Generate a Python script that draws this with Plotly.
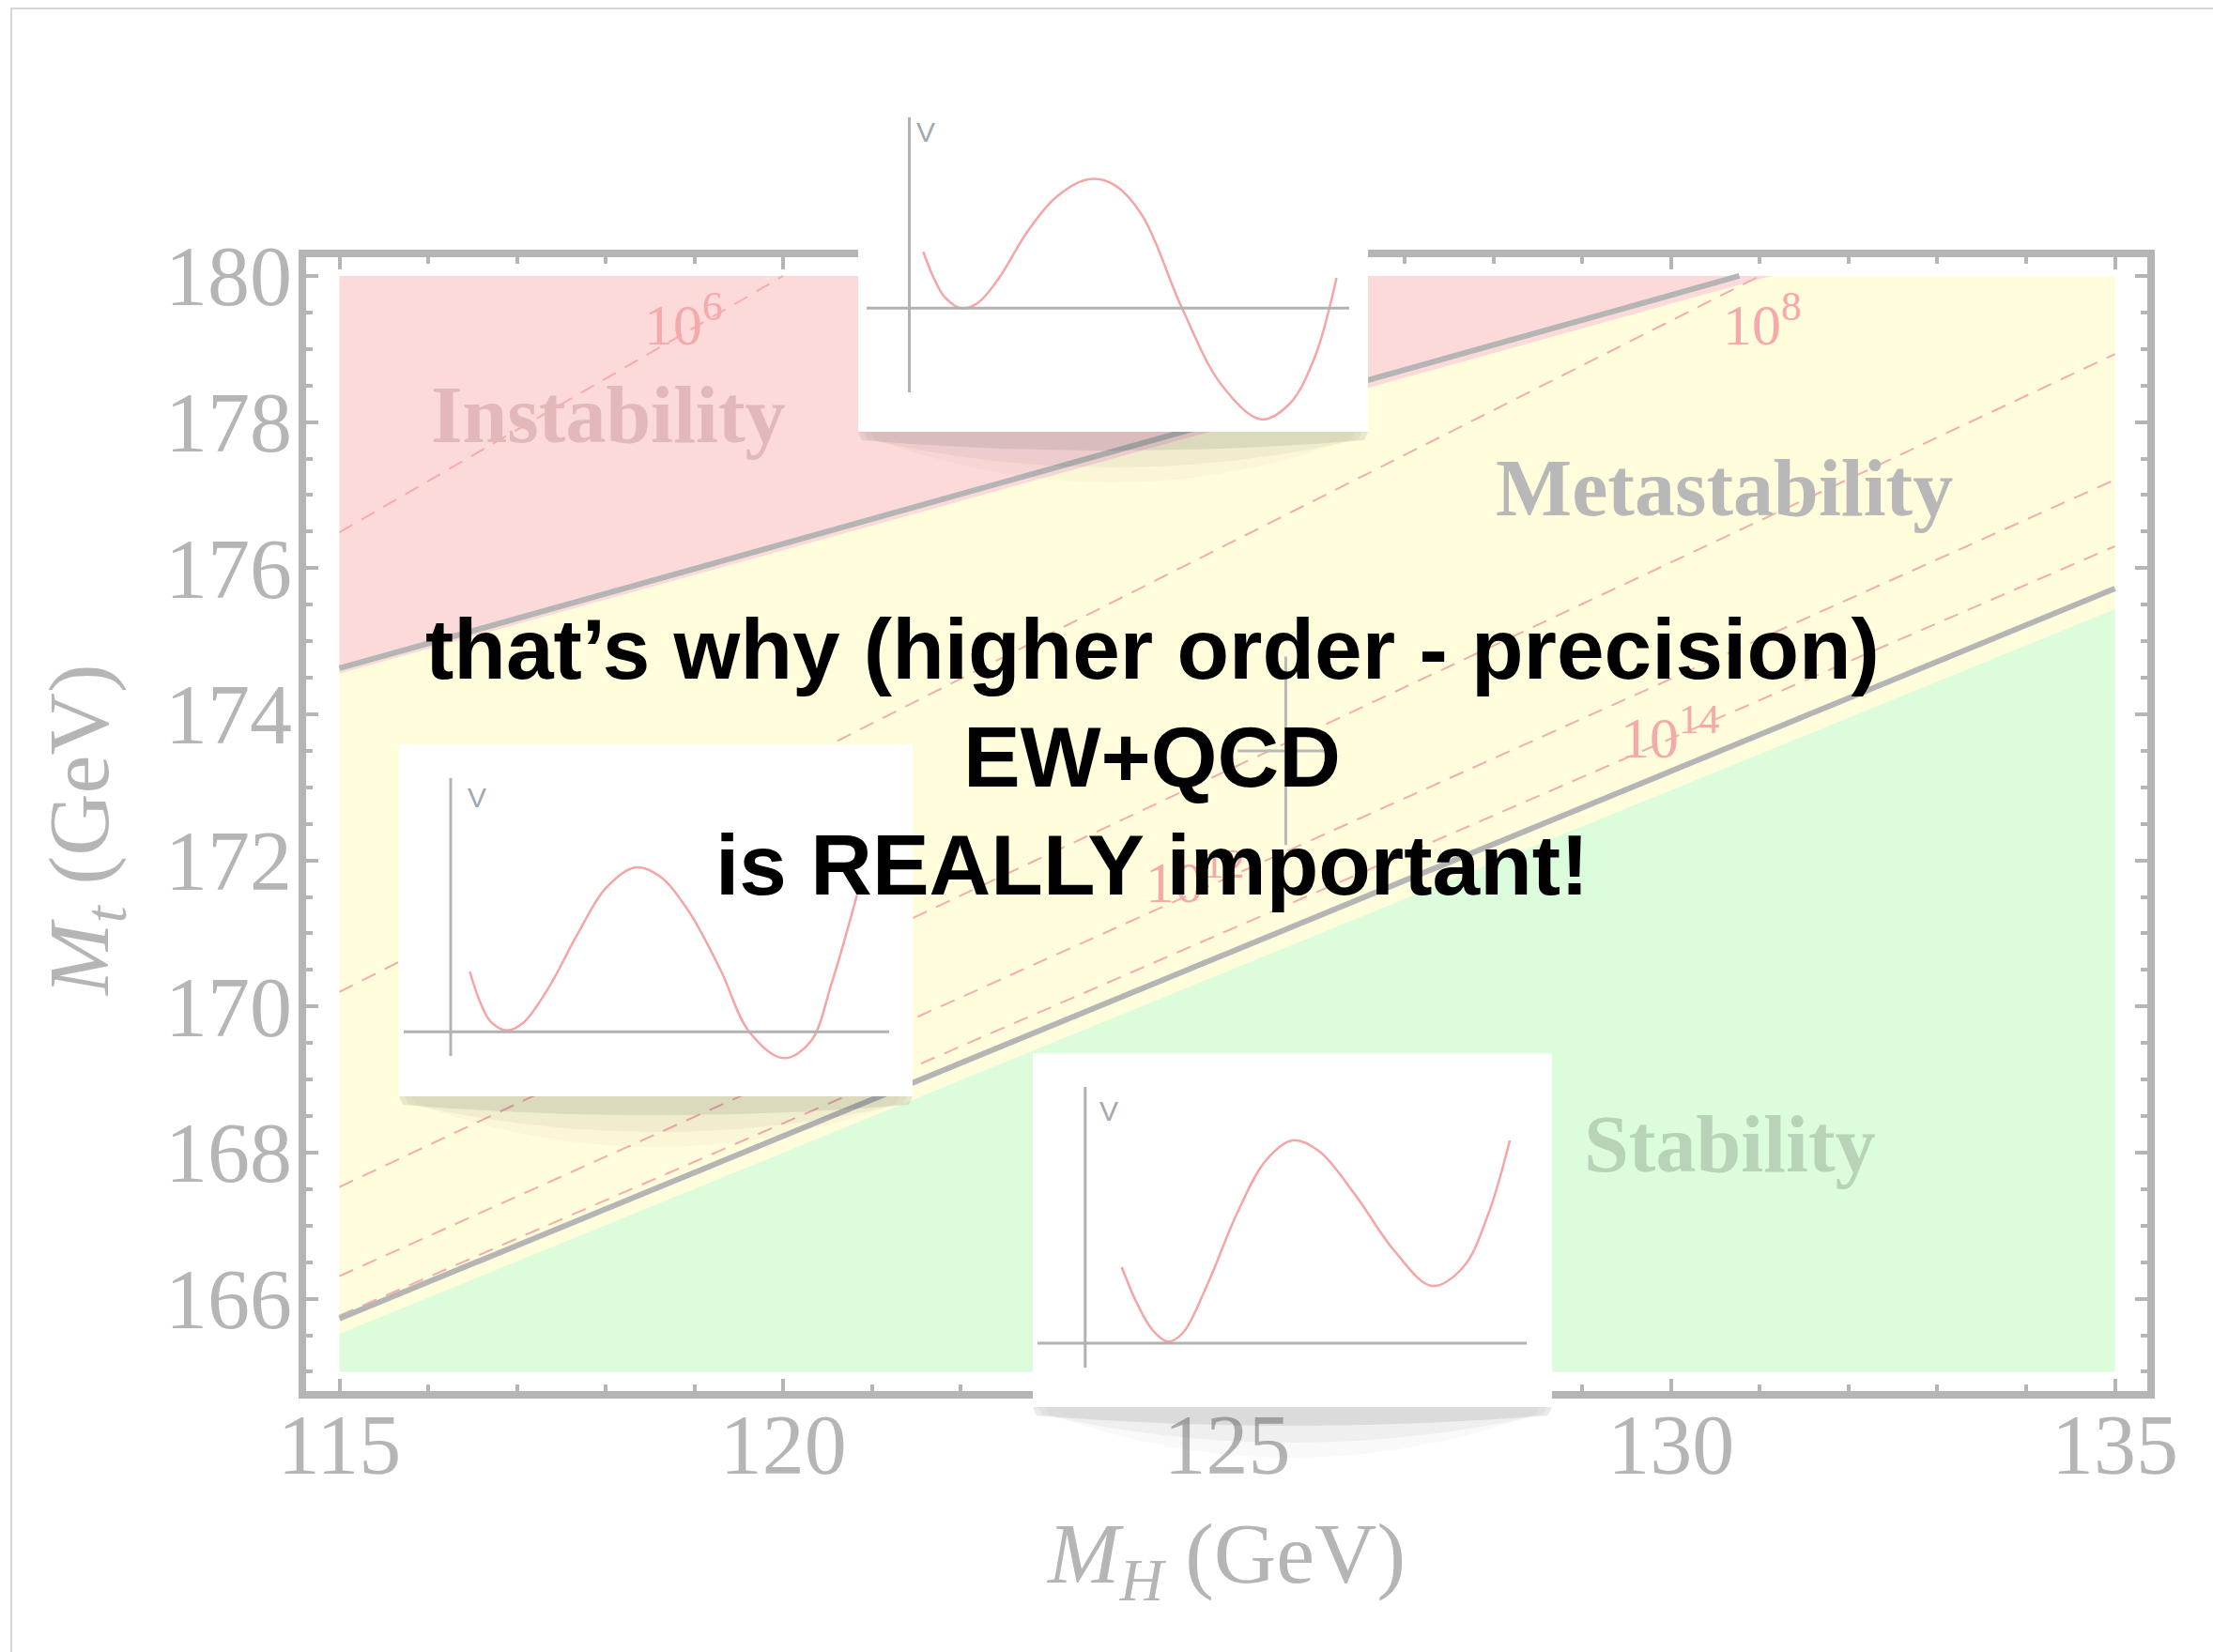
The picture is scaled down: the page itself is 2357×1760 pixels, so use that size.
import plotly.graph_objects as go

W, H = 2357, 1760


def fx(p):
    """pixel column -> paper x"""
    return p / W


def fy(p):
    """pixel row -> paper y"""
    return 1 - p / H


# ---------------- data ----------------
MH_LIM = [115, 135]
MT_LIM = [165, 180]

# boundary of the instability (pink) region
inst_mh = [115.0, 131.13]
inst_mt = [174.56, 180.0]
# boundary of the absolute-stability (green) region
stab_mh = [115.0, 135.0]
stab_mt = [165.52, 175.44]

# solid gray bounds
upper_mh = [115.0, 130.77]
upper_mt = [174.63, 180.0]
lower_mh = [115.0, 135.0]
lower_mt = [165.73, 175.72]

# instability-scale contours (dashed)
scale_mh = [[115.0, 120.0], [115.0, 131.0], [115.0, 135.0], [115.0, 135.0], [115.0, 135.0]]
scale_mt = [[176.49, 180.0], [170.2, 180.0], [167.53, 178.93], [166.31, 177.21], [165.77, 176.30]]

# contour labels
scale_text = ["10<sup>6</sup>", "10<sup>8</sup>", "10<sup>12</sup>", "10<sup>14</sup>"]
scale_text_mh = [118.88, 131.03, 124.64, 129.99]
scale_text_mt = [179.40, 179.40, 171.76, 173.74]

# region names
region_text = ["<b>Instability</b>", "<b>Metastability</b>", "<b>Stability</b>"]
region_mh = [118.03, 130.60, 130.66]
region_mt = [178.10, 177.10, 168.11]

# measured point with errors
mh_meas, mh_err = [125.66], 0.54
mt_meas, mt_err = [173.50], 1.29

x_ticks = [115, 120, 125, 130, 135]
y_ticks = [166, 168, 170, 172, 174, 176, 178, 180]

# sketched potentials V(phi) for the three inset panels
pot_top_phi = [0.148, 0.263, 0.378, 0.55, 0.722, 0.952, 1.258, 1.564, 1.909, 2.177, 2.483, 2.904, 3.325, 3.746, 4.052, 4.32, 4.55]
pot_top_V = [0.600, 0.316, 0.116, 0.0, 0.05, 0.316, 0.816, 1.183, 1.373, 1.316, 0.983, 0.0, -0.817, -1.184, -1.017, -0.517, 0.323]

pot_left_phi = [0.203, 0.31, 0.425, 0.597, 0.769, 1.037, 1.343, 1.649, 1.963, 2.223, 2.53, 2.874, 3.18, 3.544, 3.831, 4.06, 4.328]
pot_left_V = [0.643, 0.326, 0.11, 0.016, 0.093, 0.46, 1.026, 1.526, 1.75, 1.66, 1.293, 0.66, 0.0, -0.28, -0.107, 0.526, 1.46]

pot_bot_phi = [0.39, 0.543, 0.715, 0.88, 1.041, 1.309, 1.615, 1.921, 2.208, 2.495, 2.878, 3.299, 3.693, 4.026, 4.294, 4.523]
pot_bot_V = [0.81, 0.443, 0.143, 0.017, 0.11, 0.643, 1.377, 1.943, 2.16, 2.043, 1.577, 0.977, 0.61, 0.81, 1.377, 2.16]

# ---------------- style ----------------
GRAY = "rgb(181,181,181)"
PINK = "rgb(252,218,218)"
YELLOW = "rgb(255,253,219)"
GREEN = "rgb(219,253,219)"
DASH = "rgb(246,172,172)"
CURVE = "rgb(244,165,165)"
SERIF = "Liberation Serif"
SANS = "Liberation Sans"

fig = go.Figure()

nofill_line = dict(width=0, color="rgba(0,0,0,0)")
fig.add_trace(go.Scatter(
    x=[MH_LIM[0], MH_LIM[1], MH_LIM[1], MH_LIM[0]],
    y=[MT_LIM[0], MT_LIM[0], MT_LIM[1], MT_LIM[1]],
    fill="toself", fillcolor=YELLOW, mode="lines", line=nofill_line, hoverinfo="skip"))
fig.add_trace(go.Scatter(
    x=inst_mh + [MH_LIM[0]], y=inst_mt + [MT_LIM[1]],
    fill="toself", fillcolor=PINK, mode="lines", line=nofill_line, hoverinfo="skip"))
fig.add_trace(go.Scatter(
    x=stab_mh + [MH_LIM[1], MH_LIM[0]], y=stab_mt + [MT_LIM[0], MT_LIM[0]],
    fill="toself", fillcolor=GREEN, mode="lines", line=nofill_line, hoverinfo="skip"))

for xs, ys in zip(scale_mh, scale_mt):
    fig.add_trace(go.Scatter(x=xs, y=ys, mode="lines",
                             line=dict(color=DASH, width=2, dash="16px,11px"), hoverinfo="skip"))

for xs, ys in [(upper_mh, upper_mt), (lower_mh, lower_mt)]:
    fig.add_trace(go.Scatter(x=xs, y=ys, mode="lines",
                             line=dict(color=GRAY, width=6), hoverinfo="skip"))

fig.add_trace(go.Scatter(
    x=mh_meas, y=mt_meas, mode="markers",
    marker=dict(size=1, color="rgba(0,0,0,0)"),
    error_x=dict(type="constant", value=mh_err, width=0, thickness=3, color="rgb(185,185,185)"),
    error_y=dict(type="constant", value=mt_err, width=0, thickness=3, color="rgb(185,185,185)"),
    hoverinfo="skip"))

# ---------------- inset panels ----------------
# box: left, top, right, bottom (pixels); origin: axes crossing (pixels)
insets = [
    dict(phi=pot_top_phi, V=pot_top_V, box=(914, 98, 1457, 460), origin=(968.5, 328.3),
         hax=(923, 1437), vax=(125, 418), vlabel=(986, 140)),
    dict(phi=pot_left_phi, V=pot_left_V, box=(425, 793, 972, 1168), origin=(480, 1099.3),
         hax=(430, 947), vax=(829, 1125), vlabel=(508, 850)),
    dict(phi=pot_bot_phi, V=pot_bot_V, box=(1100, 1122, 1653, 1499), origin=(1155.8, 1431),
         hax=(1105, 1626), vax=(1158, 1457), vlabel=(1181, 1183)),
]
UNIT = 100.0

shapes = []
annotations = []
layout_axes = {}

for i, ins in enumerate(insets, start=2):
    x0, y0, x1, y1 = ins["box"]
    ox, oy = ins["origin"]
    xr = [(x0 - ox) / UNIT, (x1 - ox) / UNIT]
    yr = [(oy - y1) / UNIT, (oy - y0) / UNIT]
    layout_axes[f"xaxis{i}"] = dict(domain=[fx(x0), fx(x1)], range=xr, visible=False,
                                    anchor=f"y{i}", fixedrange=True, automargin=False)
    layout_axes[f"yaxis{i}"] = dict(domain=[fy(y1), fy(y0)], range=yr, visible=False,
                                    anchor=f"x{i}", fixedrange=True, automargin=False)
    fig.add_trace(go.Scatter(x=ins["phi"], y=ins["V"], xaxis=f"x{i}", yaxis=f"y{i}",
                             mode="lines", line=dict(color=CURVE, width=2.5, shape="spline", smoothing=1.0),
                             hoverinfo="skip"))
    # inset axes
    hx0, hx1 = ins["hax"]
    vy0, vy1 = ins["vax"]
    shapes.append(dict(type="line", xref="paper", yref="paper", layer="above",
                       x0=fx(hx0), x1=fx(hx1), y0=fy(oy), y1=fy(oy),
                       line=dict(color="rgb(178,178,178)", width=3)))
    shapes.append(dict(type="line", xref="paper", yref="paper", layer="above",
                       x0=fx(ox), x1=fx(ox), y0=fy(vy0), y1=fy(vy1),
                       line=dict(color="rgb(178,178,178)", width=3)))
    vx, vy = ins["vlabel"]
    annotations.append(dict(xref="paper", yref="paper", x=fx(vx), y=fy(vy), text="V",
                            showarrow=False, font=dict(family=SANS, size=30, color="rgb(160,168,176)"),
                            xanchor="center", yanchor="middle"))
    # curled drop shadow under the panel
    xc = (x0 + x1) / 2
    layers = [(0, 9, 20, "rgba(60,60,60,0.11)"), (6, 8, 38, "rgba(60,60,60,0.05)"),
              (14, 8, 54, "rgba(60,60,60,0.03)")]
    for inset_px, edge, depth, col in layers:
        path = (f"M {fx(x0 + inset_px)},{fy(y1)} L {fx(x1 - inset_px)},{fy(y1)} "
                f"L {fx(x1 - inset_px - 4)},{fy(y1 + edge)} "
                f"Q {fx(xc)},{fy(y1 + depth * 2 - edge)} {fx(x0 + inset_px + 4)},{fy(y1 + edge)} Z")
        shapes.append(dict(type="path", xref="paper", yref="paper", layer="above", path=path,
                           fillcolor=col, line=dict(width=0)))

# frame of the main panel
shapes.append(dict(type="rect", xref="paper", yref="paper", layer="below",
                   x0=fx(322), x1=fx(2291), y0=fy(1486), y1=fy(270),
                   line=dict(color=GRAY, width=8)))
# slide border
shapes.append(dict(type="rect", xref="paper", yref="paper", layer="below",
                   x0=fx(12), x1=fx(2420), y0=fy(1820), y1=fy(9),
                   line=dict(color="rgb(214,214,214)", width=2)))

# region names
region_colors = ["rgb(226,184,187)", "rgb(184,184,184)", "rgb(184,211,184)"]
for t, xm, ym, c in zip(region_text, region_mh, region_mt, region_colors):
    annotations.append(dict(xref="x", yref="y", x=xm, y=ym, text=t, showarrow=False,
                            font=dict(family=SERIF, size=86, color=c), xanchor="center", yanchor="middle"))

# contour labels
for t, xm, ym in zip(scale_text, scale_text_mh, scale_text_mt):
    annotations.append(dict(xref="x", yref="y", x=xm, y=ym, text=t, showarrow=False,
                            font=dict(family=SERIF, size=62, color="rgb(244,170,170)"),
                            xanchor="center", yanchor="middle"))

# axis titles
annotations.append(dict(xref="paper", yref="paper", x=fx(1305), y=fy(1661),
                        text="<i>M</i><sub><i>H</i></sub> (GeV)", showarrow=False,
                        font=dict(family=SERIF, size=92, color=GRAY), xanchor="center", yanchor="middle"))
annotations.append(dict(xref="paper", yref="paper", x=fx(90), y=fy(885),
                        text="<i>M</i><sub><i>t</i></sub> (GeV)", showarrow=False, textangle=-90,
                        font=dict(family=SERIF, size=92, color=GRAY), xanchor="center", yanchor="middle"))

# overlaid statement
statement = ["that’s why (higher order - precision)", "EW+QCD", "is REALLY important!"]
statement_rows = [691, 806, 921]
for line, row in zip(statement, statement_rows):
    annotations.append(dict(xref="paper", yref="paper", x=fx(1227), y=fy(row), text=f"<b>{line}</b>",
                            showarrow=False, font=dict(family=SANS, size=91, color="black"),
                            xanchor="center", yanchor="middle"))

tickfont = dict(family=SERIF, size=90, color=GRAY)
fig.update_layout(
    template="none",
    width=W, height=H,
    margin=dict(l=0, r=0, t=0, b=0, pad=0, autoexpand=False),
    paper_bgcolor="white", plot_bgcolor="white",
    showlegend=False, hovermode=False,
    xaxis=dict(domain=[fx(322), fx(2291)], range=[114.582, 135.407],
               tickmode="array", tickvals=x_ticks, ticktext=[str(v) for v in x_ticks],
               ticks="inside", ticklen=17, tickwidth=4, tickcolor=GRAY,
               minor=dict(dtick=1, tick0=115, ticks="inside", ticklen=11, tickwidth=4, tickcolor=GRAY),
               mirror="ticks", showline=False, showgrid=False, zeroline=False,
               tickfont=tickfont, ticklabelstandoff=-7,
               anchor="y", fixedrange=True, automargin=False),
    yaxis=dict(domain=[fy(1486), fy(270)], range=[164.685, 180.308],
               tickmode="array", tickvals=y_ticks, ticktext=[str(v) for v in y_ticks],
               ticks="inside", ticklen=17, tickwidth=4, tickcolor=GRAY,
               minor=dict(dtick=0.5, tick0=165, ticks="inside", ticklen=11, tickwidth=4, tickcolor=GRAY),
               mirror="ticks", showline=False, showgrid=False, zeroline=False,
               tickfont=tickfont, ticklabelstandoff=10,
               anchor="x", fixedrange=True, automargin=False),
    shapes=shapes,
    annotations=annotations,
    **layout_axes,
)

fig.write_html("out.html")
